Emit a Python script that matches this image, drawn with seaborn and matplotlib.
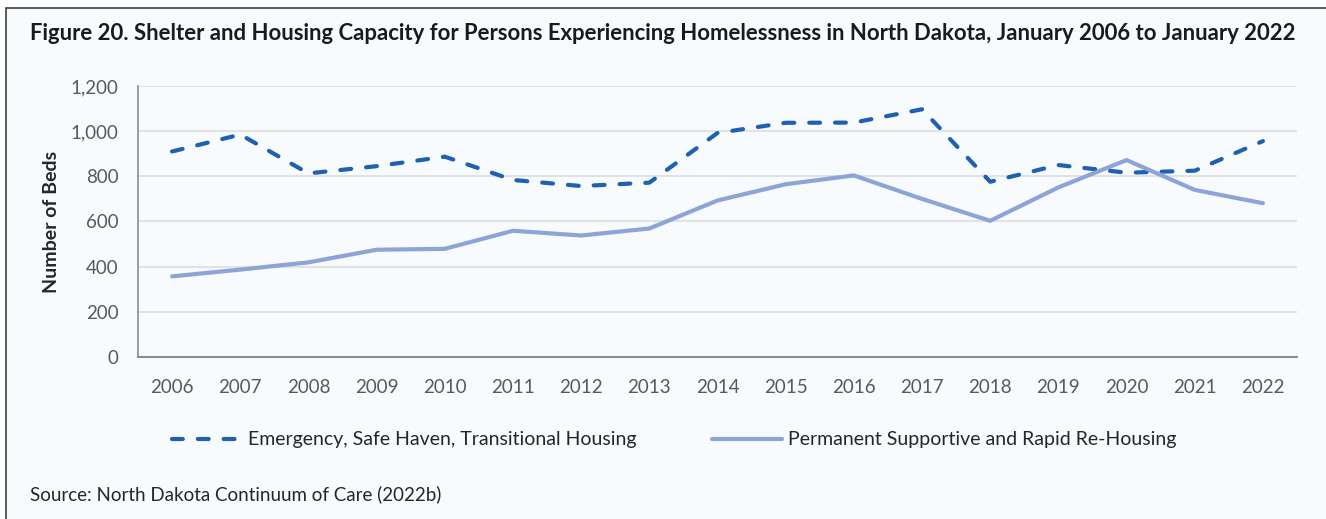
import matplotlib
matplotlib.use("Agg")
import matplotlib.pyplot as plt
import seaborn as sns
import pandas as pd
from matplotlib.patches import Rectangle
from matplotlib.lines import Line2D

years = [str(y) for y in range(2006, 2023)]
emergency = [910, 985, 813, 845, 887, 784, 757, 772, 992, 1037, 1038, 1097, 776, 850, 816, 825, 956]
permanent = [357, 387, 419, 475, 479, 559, 538, 569, 693, 765, 804, 700, 603, 751, 872, 740, 681]
series_names = ["Emergency, Safe Haven, Transitional Housing", "Permanent Supportive and Rapid Re-Housing"]
yticks = [0, 200, 400, 600, 800, 1000, 1200]
ytick_labels = ["0", "200", "400", "600", "800", "1,000", "1,200"]

BG = "#f7fbfd"
DASH_C = "#1f60b0"
SOLID_C = "#8da4d8"
LW = 3.0
DASH = (2.6, 3.6)

sns.set_theme(style="white")
plt.rcParams['font.family'] = ['Lato', 'DejaVu Sans']

df = pd.DataFrame({
    "year": years * 2,
    "beds": emergency + permanent,
    "series": [series_names[0]] * len(years) + [series_names[1]] * len(years),
})

W, H = 1326, 519
fig = plt.figure(figsize=(W / 100, H / 100), dpi=100)
fig.patch.set_facecolor("white")
fig.patches.append(Rectangle((6 / W, -0.2), 2, 1.2 - 8 / H, transform=fig.transFigure,
                             facecolor=BG, edgecolor="#404040", linewidth=1.2, zorder=-5))

ax = fig.add_axes([138 / W, 1 - 357 / H, (1297 - 138) / W, (357 - 86) / H])
ax.set_facecolor(BG)
ax.set_zorder(2)

sns.lineplot(data=df, x="year", y="beds", hue="series", style="series",
             palette=[DASH_C, SOLID_C], dashes=[DASH, ""], linewidth=LW,
             ax=ax, legend=False, sort=False)
for ln in ax.get_lines():
    ln.set_dash_capstyle("round")
    ln.set_solid_joinstyle("round")

ax.set_xlim(-0.5, len(years) - 0.5)
ax.set_ylim(0, 1200)
ax.set_yticks(yticks)
ax.set_yticklabels(ytick_labels)
ax.grid(axis="y", color="#dedede", linewidth=1.2)
ax.set_axisbelow(True)
for s in ["top", "right"]:
    ax.spines[s].set_visible(False)
ax.spines["left"].set_color("#8c8c8c")
ax.spines["bottom"].set_color("#8c8c8c")
ax.spines["left"].set_linewidth(1.2)
ax.spines["bottom"].set_linewidth(1.5)
ax.tick_params(axis="both", length=0, labelsize=13.5, colors="#595959")
ax.tick_params(axis="y", pad=14)
ax.tick_params(axis="x", pad=16)
ax.set_xlabel("")
ax.set_ylabel("Number of Beds", fontsize=14, fontweight="bold", color="#262626", labelpad=8)

fig.text(30 / W, 1 - 33 / H, "Figure 20. Shelter and Housing Capacity for Persons Experiencing Homelessness in North Dakota, January 2006 to January 2022",
         fontsize=15.9, fontweight="bold", color="#1a1a1a", va="center", ha="left")

handles = [Line2D([], [], color=DASH_C, linewidth=LW, dashes=DASH, dash_capstyle="round"),
           Line2D([], [], color=SOLID_C, linewidth=LW)]
fig.legend(handles, series_names, loc="center left", bbox_to_anchor=(172 / W, 1 - 440 / H),
           ncol=2, frameon=False, fontsize=14, handlelength=3.6, columnspacing=3.9,
           handletextpad=0.3, labelcolor="#262626", borderaxespad=0, borderpad=0)

fig.text(30 / W, 1 - 494 / H, "Source: North Dakota Continuum of Care (2022b)",
         fontsize=13.5, color="#262626", va="center", ha="left")

fig.savefig("out.png", dpi=100, facecolor=fig.get_facecolor())
